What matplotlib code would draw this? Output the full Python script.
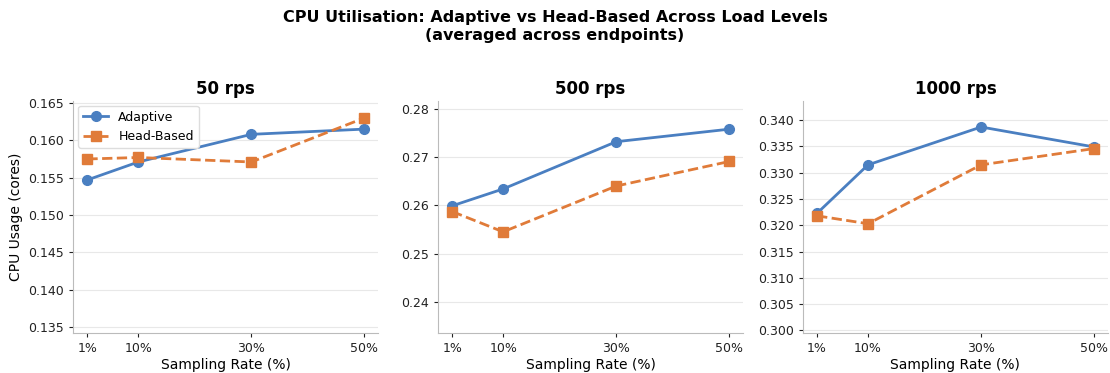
import matplotlib
matplotlib.use("Agg")
import matplotlib.pyplot as plt

# sampling rates (%)
rates = [1, 10, 30, 50]
rate_labels = ["1%", "10%", "30%", "50%"]
loads = ["50 rps", "500 rps", "1000 rps"]

# CPU usage in cores, averaged across endpoints
adaptive_50 = [0.1547, 0.1571, 0.1608, 0.1615]
head_50 = [0.1575, 0.1577, 0.1571, 0.1630]
adaptive_500 = [0.2599, 0.2634, 0.2732, 0.2758]
head_500 = [0.2587, 0.2545, 0.2640, 0.2691]
adaptive_1000 = [0.3223, 0.3315, 0.3387, 0.3349]
head_1000 = [0.3218, 0.3203, 0.3315, 0.3346]

adaptive = [adaptive_50, adaptive_500, adaptive_1000]
head = [head_50, head_500, head_1000]
ylims = [(0.1342, 0.1653), (0.2335, 0.2817), (0.2995, 0.3437)]

blue = "#4a7fc1"
orange = "#e07b39"

fig, axes = plt.subplots(1, 3, figsize=(11.1, 3.73), dpi=100)
fig.subplots_adjust(left=0.066, right=0.998, top=0.73, bottom=0.107, wspace=0.197)

for i, ax in enumerate(axes):
    ax.plot(rates, adaptive[i], color=blue, linestyle="-", linewidth=2,
            marker="o", markersize=7, label="Adaptive")
    ax.plot(rates, head[i], color=orange, linestyle="--", linewidth=2,
            marker="s", markersize=7, label="Head-Based")
    ax.set_title(loads[i], fontsize=12, fontweight="bold", pad=5)
    ax.set_xticks(rates)
    ax.set_xticklabels(rate_labels)
    ax.set_xlim(-1.5, 52.4)
    ax.set_ylim(*ylims[i])
    ax.set_xlabel("Sampling Rate (%)", fontsize=10, labelpad=2)
    ax.tick_params(labelsize=9, colors="#222222", length=3)
    ax.grid(axis="y", color="#e8e8e8", linewidth=0.8)
    ax.set_axisbelow(True)
    for side in ["top", "right"]:
        ax.spines[side].set_visible(False)
    for side in ["left", "bottom"]:
        ax.spines[side].set_color("#bbbbbb")

axes[0].set_ylabel("CPU Usage (cores)", fontsize=10)
axes[0].legend(loc="upper left", fontsize=9, framealpha=1, edgecolor="#dddddd",
               borderaxespad=0.4)

fig.suptitle("CPU Utilisation: Adaptive vs Head-Based Across Load Levels\n(averaged across endpoints)",
             fontsize=11.5, fontweight="bold", y=0.972)

fig.savefig("out.png", dpi=100)
